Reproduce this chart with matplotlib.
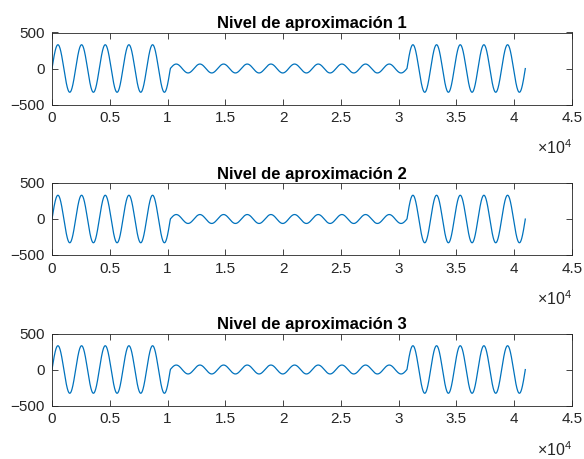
import numpy as np
import matplotlib
matplotlib.use('Agg')
import matplotlib.pyplot as plt

plt.rcParams['font.family'] = ['Liberation Sans', 'DejaVu Sans']
plt.rcParams['mathtext.fontset'] = 'custom'
plt.rcParams['mathtext.rm'] = 'Liberation Sans'

# signal pieces: number of cycles and amplitude of each stretch
period = 2048
seg_cycles = [5, 10, 5]
seg_amp = [330, 62, 330]

titles = ['Nivel de aproximación 1', 'Nivel de aproximación 2', 'Nivel de aproximación 3']
xticks = [0, 5000, 10000, 15000, 20000, 25000, 30000, 35000, 40000, 45000]
xticklabels = ['0', '0.5', '1', '1.5', '2', '2.5', '3', '3.5', '4', '4.5']
yticks = [-500, 0, 500]

pieces = []
for cyc, amp in zip(seg_cycles, seg_amp):
    n = np.arange(cyc * period)
    pieces.append(amp * np.sin(2 * np.pi * n / period))
signal = np.concatenate(pieces)
idx = np.arange(len(signal))

W, H = 584, 459
fig = plt.figure(figsize=(W / 100, H / 100), dpi=100)
ink = '#262626'

tops = [32.5, 183.0, 333.5]
for k, top in enumerate(tops):
    ax = fig.add_axes([52 / W, 1 - (top + 72) / H, 520 / W, 72 / H])
    ax.plot(idx, signal, color='#0072BD', lw=0.9)
    ax.set_xlim(0, 45000)
    ax.set_ylim(-500, 500)
    ax.set_xticks(xticks)
    ax.set_xticklabels(xticklabels)
    ax.set_yticks(yticks)
    ax.tick_params(direction='in', top=True, right=True, length=4, width=0.6,
                   labelsize=11, colors=ink, pad=5)
    for s in ax.spines.values():
        s.set_linewidth(0.6)
        s.set_color(ink)
    ax.set_title(titles[k], fontsize=12, fontweight='bold', pad=3)
    ax.text(1.0, -50 / 72, r'$\times10^{4}$', transform=ax.transAxes,
            ha='right', va='baseline', fontsize=11.5, color=ink)

fig.savefig('out.png', dpi=100, facecolor='white')
